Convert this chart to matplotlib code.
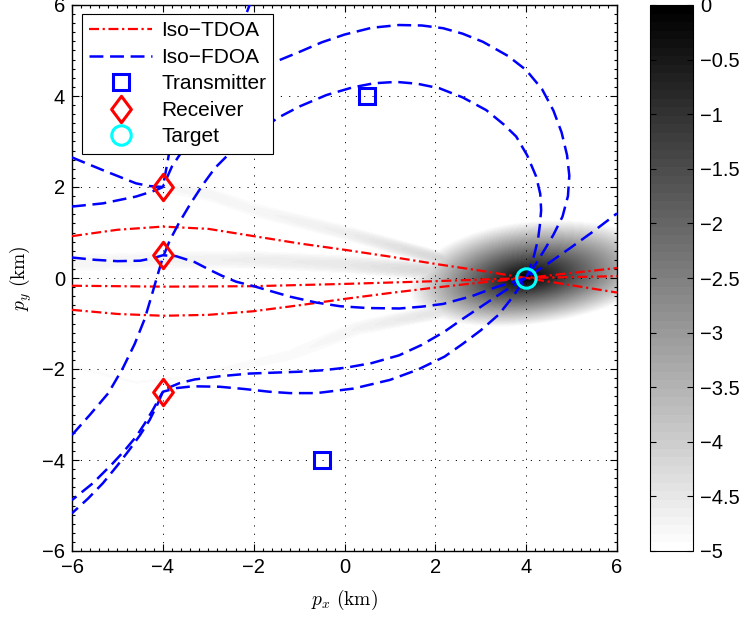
import numpy as np
import matplotlib
matplotlib.use("Agg")
import matplotlib.pyplot as plt
from matplotlib.lines import Line2D
from matplotlib.path import Path
from matplotlib.ticker import MultipleLocator

plt.rcParams['font.family'] = ['Liberation Sans', 'DejaVu Sans']
plt.rcParams['mathtext.fontset'] = 'cm'
plt.rcParams['lines.scale_dashes'] = False

# ---- geometry (km) ----
tx_x = [0.5, -0.5]
tx_y = [4.0, -4.0]
rx_x = [-4.0, -4.0, -4.0]
rx_y = [2.0, 0.5, -2.5]
target_x = [4.0]
target_y = [0.0]

# ---- iso-TDOA curves ----
tdoa_1_x = [-6, -5, -4, -3, -2, -1, 0, 1, 2, 3, 4, 5, 6]
tdoa_1_y = [0.92, 1.06, 1.13, 1.08, 0.92, 0.76, 0.62, 0.47, 0.31, 0.16, 0.0, -0.16, -0.32]
tdoa_2_x = [-6, -4, -2, 0, 2, 4, 6]
tdoa_2_y = [-0.17, -0.19, -0.18, -0.13, -0.07, 0.0, 0.04]
tdoa_3_x = [-6, -5, -4, -3, -2, -1, 0, 1, 2, 3, 4, 5, 6]
tdoa_3_y = [-0.7, -0.79, -0.83, -0.81, -0.73, -0.6, -0.46, -0.33, -0.21, -0.1, 0.0, 0.11, 0.22]

# ---- iso-FDOA curves ----
# through receiver 2, inner arc, target, lower branch, receiver 3
fdoa_a_x = [-6.0, -5.6, -5.2, -4.88, -4.62, -4.4, -4.25, -4.12, -4.0, -3.85, -3.65, -3.4,
            -3.12, -2.85, -2.6, -2.16, -1.8, -1.43, -0.99, -0.4, 0.18, 0.65, 1.14, 1.6,
            2.09, 2.6, 3.12, 3.5, 3.78, 4.02, 4.22, 4.31, 4.33, 4.3, 4.26, 4.17, 4.07, 4.0,
            3.85, 3.7, 3.4, 3.0, 2.6, 2.2, 1.6, 1.0, 0.2, -0.62, -1.2, -1.65, -2.2, -2.75,
            -3.34, -3.7, -4.0, -4.1, -4.22, -4.4, -4.59, -4.85, -5.1, -5.54, -6.0]
fdoa_a_y = [-3.45, -3.0, -2.53, -1.98, -1.45, -0.9, -0.4, 0.05, 0.45, 0.82, 1.2, 1.62,
            2.05, 2.42, 2.67, 3.03, 3.3, 3.54, 3.77, 4.02, 4.19, 4.28, 4.31, 4.27,
            4.17, 3.97, 3.69, 3.38, 3.11, 2.7, 2.23, 1.85, 1.49, 1.15, 0.84, 0.48, 0.18, 0.0,
            -0.2, -0.42, -0.8, -1.15, -1.45, -1.73, -2.02, -2.24, -2.43, -2.53, -2.53, -2.5,
            -2.44, -2.39, -2.38, -2.42, -2.5, -2.68, -2.9, -3.2, -3.49, -3.8, -4.07, -4.51, -4.88]
# through receiver 1, outer arc, target, upper lower branch, receiver 3
fdoa_b_x = [-6.0, -5.32, -4.59, -4.29, -4.0, -3.93, -3.87, -3.75, -3.4, -2.8, -2.1, -1.43,
            -0.99, -0.5, 0.0, 0.6, 1.2, 1.7, 2.17, 2.6, 3.05, 3.6, 4.0, 4.35, 4.6, 4.78,
            4.9, 4.95, 4.92, 4.8, 4.6, 4.38, 4.18, 4.0, 3.5, 3.05, 2.6, 2.2, 1.7, 1.2, 0.6,
            0.04, -0.5, -1.0, -2.09, -2.75, -3.3, -3.63, -3.85, -4.0, -4.12, -4.29, -4.5,
            -4.74, -5.0, -5.32, -5.65, -6.0]
fdoa_b_y = [2.65, 2.37, 2.08, 2.02, 2.0, 2.37, 2.7, 3.3, 3.9, 4.35, 4.62, 4.79,
            4.97, 5.18, 5.35, 5.5, 5.56, 5.55, 5.49, 5.37, 5.19, 4.88, 4.57, 4.15, 3.68, 3.2,
            2.7, 2.25, 1.8, 1.35, 0.95, 0.58, 0.26, 0.0, -0.3, -0.6, -0.9, -1.18, -1.47, -1.7, -1.87,
            -1.97, -2.03, -2.06, -2.1, -2.16, -2.23, -2.31, -2.4, -2.5, -2.78, -3.12, -3.45,
            -3.78, -4.12, -4.51, -4.85, -5.17]
# through receiver 2, target, to the right edge
fdoa_c_x = [-6.0, -5.5, -5.0, -4.5, -4.2, -4.0, -3.71, -3.3, -2.97, -2.7, -2.39, -2.0,
            -1.65, -1.2, -0.62, -0.1, 0.5, 1.21, 1.7, 2.17, 2.8, 3.34, 4.0, 4.5, 5.0, 5.5, 6.0]
fdoa_c_y = [0.45, 0.4, 0.37, 0.38, 0.44, 0.5, 0.48, 0.35, 0.18, 0.05, -0.08, -0.18,
            -0.28, -0.41, -0.54, -0.62, -0.66, -0.67, -0.63, -0.57, -0.4, -0.2, 0.0, 0.33, 0.68, 1.04, 1.42]
# through receiver 1 to the top edge
fdoa_d_x = [-6.0, -5.32, -4.59, -4.15, -4.0, -3.8, -3.56, -3.2, -2.7, -2.3, -2.05]
fdoa_d_y = [1.57, 1.64, 1.79, 1.93, 2.0, 2.45, 2.81, 3.6, 4.65, 5.45, 6.1]

# ---- log-likelihood map (colour scale -5..0) ----
blob_center = (4.0, 0.0)
blob_reach = (2.6, 3.0, 1.05, 1.25)   # left, right, down, up (km)
blob_tilt = 0.1
blob_power = 0.55
streak_1_x = [-6.0, -4.0, -2.0, 0.0, 2.0, 3.0]
streak_1_y = [0.33, 0.4, 0.4, 0.3, 0.15, 0.05]
streak_1_lev = [-4.8, -4.75, -4.65, -4.55, -4.2, -3.6]
streak_2_x = [-4.0, -3.0, -2.0, 0.0, 2.0, 3.0]
streak_2_y = [2.0, 1.85, 1.5, 1.0, 0.45, 0.25]
streak_2_lev = [-4.85, -4.78, -4.8, -4.65, -4.2, -3.6]
streak_3_x = [-6.0, -4.6, -3.2, -1.2, 0.3, 2.3, 3.0]
streak_3_y = [-1.95, -2.3, -2.15, -1.7, -1.1, -0.7, -0.45]
streak_3_lev = [-4.92, -4.92, -4.92, -4.88, -4.75, -4.4, -3.9]
streak_width = [0.22, 0.18, 0.18]

cbar_ticks = [0, -0.5, -1, -1.5, -2, -2.5, -3, -3.5, -4, -4.5, -5]
cbar_labels = ['0', '\u22120.5', '\u22121', '\u22121.5', '\u22122', '\u22122.5',
               '\u22123', '\u22123.5', '\u22124', '\u22124.5', '\u22125']


def streak_field(X, Y, px, py, lev, width):
    best = np.full(X.shape, -np.inf)
    for i in range(len(px) - 1):
        x0, y0, dx, dy = px[i], py[i], px[i + 1] - px[i], py[i + 1] - py[i]
        t = np.clip(((X - x0) * dx + (Y - y0) * dy) / (dx * dx + dy * dy), 0, 1)
        d = np.hypot(X - (x0 + t * dx), Y - (y0 + t * dy))
        lv = lev[i] + t * (lev[i + 1] - lev[i])
        best = np.maximum(best, lv - (5 + lv) * (d / width) ** 2)
    return best


g = np.linspace(-6, 6, 601)
X, Y = np.meshgrid(g, g)
dx = X - blob_center[0]
dy = Y - blob_center[1] - blob_tilt * dx
a = np.where(dx < 0, blob_reach[0], blob_reach[1])
b = np.where(dy < 0, blob_reach[2], blob_reach[3])
field = -5 * ((dx / a) ** 2 + (dy / b) ** 2) ** blob_power
for sx, sy, sl, w in zip([streak_1_x, streak_2_x, streak_3_x],
                         [streak_1_y, streak_2_y, streak_3_y],
                         [streak_1_lev, streak_2_lev, streak_3_lev], streak_width):
    field = np.maximum(field, streak_field(X, Y, sx, sy, sl, w))
field = np.clip(field, -5, 0)

fig = plt.figure(figsize=(7.45, 6.17), dpi=100)
ax = fig.add_axes([72 / 745, 66 / 617, 545 / 745, 546 / 617])
cax = fig.add_axes([650 / 745, 66 / 617, 43 / 745, 546 / 617])

im = ax.imshow(field, origin='lower', extent=[-6, 6, -6, 6], cmap=plt.get_cmap('gray_r', 64),
               vmin=-5, vmax=0, interpolation='bilinear', aspect='auto', zorder=0)

red_ls = (0, (7.2, 2.6, 1.6, 2.6))
blue_ls = (0, (10, 4.8))
for xs, ys in [(tdoa_1_x, tdoa_1_y), (tdoa_2_x, tdoa_2_y), (tdoa_3_x, tdoa_3_y)]:
    ax.plot(xs, ys, color='red', lw=1.6, linestyle=red_ls, zorder=3)
for xs, ys in [(fdoa_a_x, fdoa_a_y), (fdoa_b_x, fdoa_b_y), (fdoa_c_x, fdoa_c_y), (fdoa_d_x, fdoa_d_y)]:
    ax.plot(xs, ys, color='blue', lw=1.8, linestyle=blue_ls, zorder=3)

diamond = Path([(0, 1), (0.75, 0), (0, -1), (-0.75, 0), (0, 1)], closed=True)
ax.plot(tx_x, tx_y, ls='none', marker='s', ms=11, mfc='none', mec='blue', mew=2.2, zorder=4)
ax.plot(rx_x, rx_y, ls='none', marker=diamond, ms=19, mfc='none', mec='red', mew=2.2, zorder=4)
ax.plot(target_x, target_y, ls='none', marker='o', ms=14, mfc='none', mec='cyan', mew=2.2, zorder=4)

ax.set_xlim(-6, 6)
ax.set_ylim(-6, 6)
ax.set_xticks(range(-6, 7, 2))
ax.set_yticks(range(-6, 7, 2))
ax.xaxis.set_minor_locator(MultipleLocator(0.2))
ax.yaxis.set_minor_locator(MultipleLocator(0.2))
ax.tick_params(which='both', direction='in', top=True, right=True, labelsize=14.5, width=0.8)
ax.tick_params(which='major', length=5, pad=5)
ax.tick_params(which='minor', length=2.5)
ax.set_axisbelow('line')
ax.grid(True, which='major', color='k', lw=0.7, linestyle=(0, (0.8, 5.2)))
for s in ax.spines.values():
    s.set_linewidth(1.0)
ax.set_xlabel(r'$p_x\ \mathrm{(km)}$', fontsize=14, labelpad=8)
ax.set_ylabel(r'$p_y\ \mathrm{(km)}$', fontsize=14, labelpad=6)

handles = [
    Line2D([], [], color='red', lw=1.6, linestyle=red_ls),
    Line2D([], [], color='blue', lw=1.8, linestyle=blue_ls),
    Line2D([], [], ls='none', marker='s', ms=11, mfc='none', mec='blue', mew=2.2),
    Line2D([], [], ls='none', marker=diamond, ms=19, mfc='none', mec='red', mew=2.2),
    Line2D([], [], ls='none', marker='o', ms=14, mfc='none', mec='cyan', mew=2.2),
]
labels = ['Iso\u2212TDOA', 'Iso\u2212FDOA', 'Transmitter', 'Receiver', 'Target']
leg = ax.legend(handles, labels, loc='upper left', bbox_to_anchor=(10 / 545, 1 - 9 / 546),
                borderaxespad=0, fontsize=15, handlelength=3.0, handletextpad=0.45,
                labelspacing=0.36, borderpad=0.35, fancybox=False, framealpha=1,
                edgecolor='k', numpoints=1)
leg.get_frame().set_linewidth(0.8)
leg.set_zorder(10)

cb = fig.colorbar(im, cax=cax, ticks=cbar_ticks)
cb.set_ticklabels(cbar_labels)
cax.tick_params(direction='in', left=True, right=True, length=4, width=0.8, labelsize=14.5, pad=5)
cb.outline.set_linewidth(0.8)

fig.savefig('out.png', dpi=100)
